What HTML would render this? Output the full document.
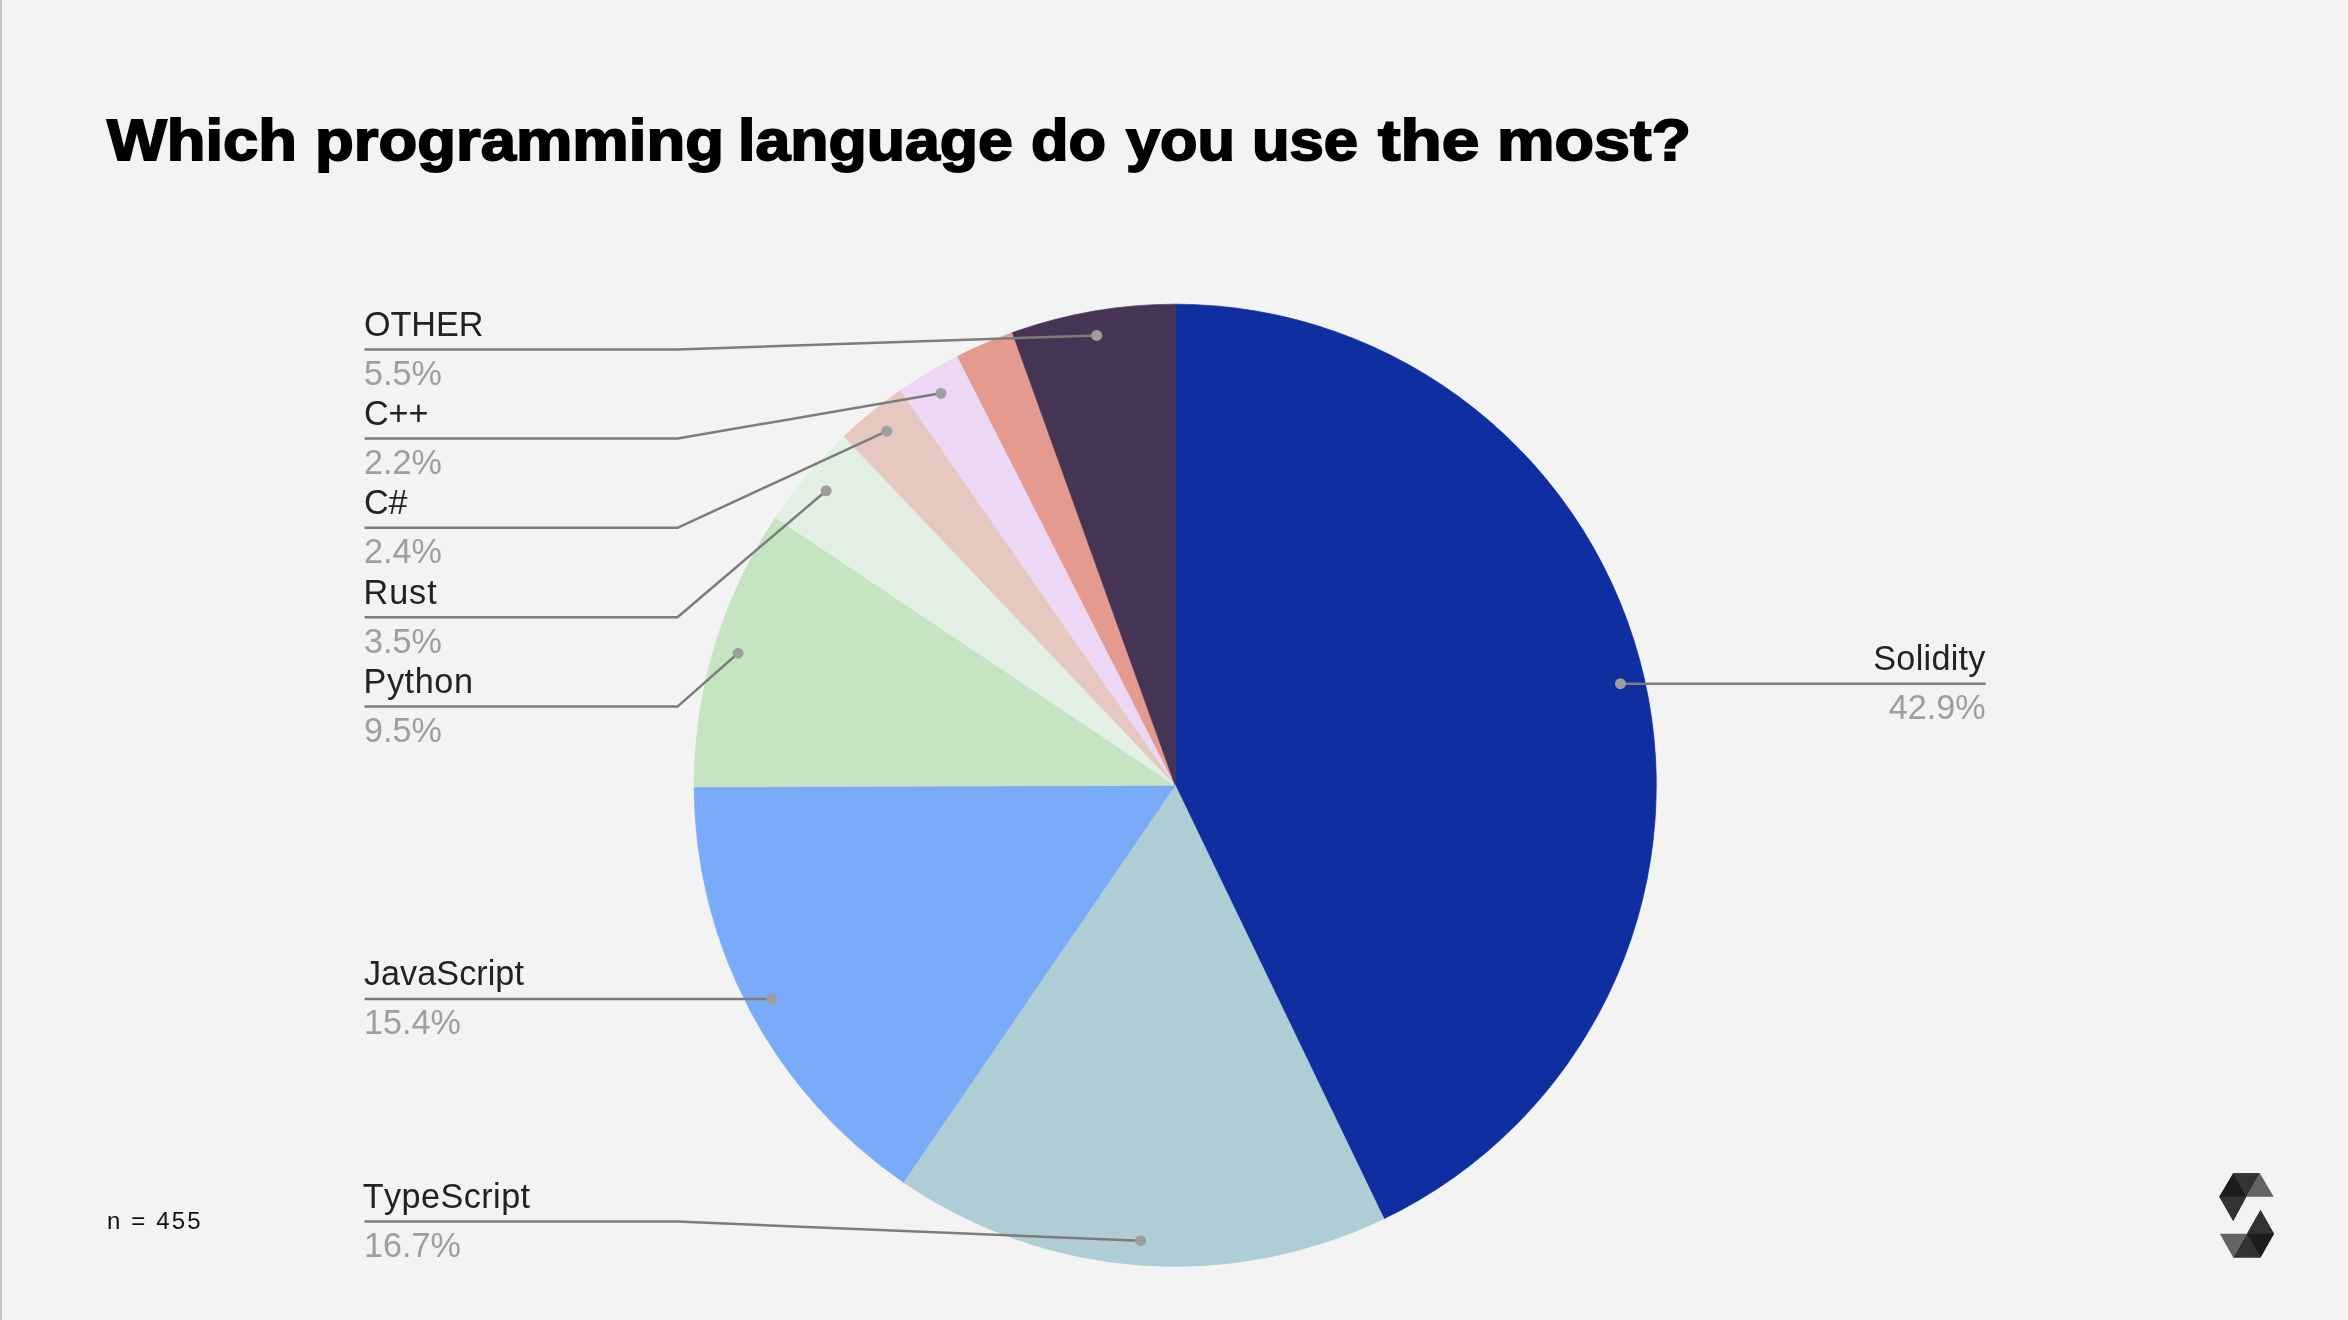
<!DOCTYPE html>
<html><head><meta charset="utf-8"><title>Which programming language do you use the most?</title>
<style>
html,body{margin:0;padding:0;}
body{width:2348px;height:1320px;background:#f3f3f3;overflow:hidden;position:relative;font-family:"Liberation Sans",sans-serif;}
#edge{position:absolute;left:0;top:0;width:2px;height:1320px;background:#c4c6c4;}
#title{position:absolute;left:0;top:100.2px;margin:0;width:2348px;height:80px;font-family:"Liberation Sans",sans-serif;font-weight:bold;font-size:58px;line-height:80px;color:#000;white-space:nowrap;-webkit-text-stroke:1.8px #000;}
#title span{position:absolute;top:0;display:block;transform-origin:0 0;}
#n{position:absolute;left:106.9px;top:1206.1px;font-size:24px;line-height:30px;color:#111;letter-spacing:2.15px;white-space:nowrap;}
svg{position:absolute;left:0;top:0;will-change:transform;}
#title,#n{will-change:transform;}
.ln{fill:none;stroke:#7c7c7c;stroke-width:2.5;stroke-linejoin:miter;}
.lb,.pc{font-kerning:none;}
.lb{font-family:"Liberation Sans",sans-serif;font-size:34.2px;fill:#222222;}
.pc{font-family:"Liberation Sans",sans-serif;font-size:34.2px;fill:#9e9e9e;}
</style></head>
<body>
<div id="edge"></div>
<h1 id="title"><span style="left:107.19px;transform:scaleX(1.0924)">Which </span><span style="left:315.12px;transform:scaleX(1.0940)">programming </span><span style="left:738.46px;transform:scaleX(1.0796)">language </span><span style="left:1030.88px;transform:scaleX(1.0588)">do </span><span style="left:1126.06px;transform:scaleX(1.0574)">you </span><span style="left:1252.22px;transform:scaleX(1.0615)">use </span><span style="left:1377.80px;transform:scaleX(1.1651)">the </span><span style="left:1496.96px;transform:scaleX(1.1149)">most?</span></h1>
<svg width="2348" height="1320" viewBox="0 0 2348 1320">
<g id="pie">
<path d="M1175.2,785.3L1175.20,304.20A481.1,481.1 0 0 1 1383.94,1218.76Z" fill="#0f2ea0" stroke="#0f2ea0" stroke-width="0.7" stroke-linejoin="round"/>
<path d="M1175.2,785.3L1383.94,1218.76A481.1,481.1 0 0 1 903.27,1182.18Z" fill="#afcdd4" stroke="#afcdd4" stroke-width="0.7" stroke-linejoin="round"/>
<path d="M1175.2,785.3L903.27,1182.18A481.1,481.1 0 0 1 694.10,786.96Z" fill="#7aabf9" stroke="#7aabf9" stroke-width="0.7" stroke-linejoin="round"/>
<path d="M1175.2,785.3L694.10,786.96A481.1,481.1 0 0 1 775.53,517.50Z" fill="#c6e4c2" stroke="#c6e4c2" stroke-width="0.7" stroke-linejoin="round"/>
<path d="M1175.2,785.3L775.53,517.50A481.1,481.1 0 0 1 843.93,436.42Z" fill="#e2f0e3" stroke="#e2f0e3" stroke-width="0.7" stroke-linejoin="round"/>
<path d="M1175.2,785.3L843.93,436.42A481.1,481.1 0 0 1 900.54,390.31Z" fill="#e6c8c1" stroke="#e6c8c1" stroke-width="0.7" stroke-linejoin="round"/>
<path d="M1175.2,785.3L900.54,390.31A481.1,481.1 0 0 1 957.53,356.26Z" fill="#ecd7f5" stroke="#ecd7f5" stroke-width="0.7" stroke-linejoin="round"/>
<path d="M1175.2,785.3L957.53,356.26A481.1,481.1 0 0 1 1012.39,332.59Z" fill="#e49a8f" stroke="#e49a8f" stroke-width="0.7" stroke-linejoin="round"/>
<path d="M1175.2,785.3L1012.39,332.59A481.1,481.1 0 0 1 1175.20,304.20Z" fill="#463454" stroke="#463454" stroke-width="0.7" stroke-linejoin="round"/>
</g>
<g id="labels">
<path d="M364.5,349.40L677.5,349.40L1096.76,335.39" class="ln"/>
<circle cx="1096.76" cy="335.39" r="5.5" fill="#9e9e9e"/>
<text transform="translate(363.90,335.70) scale(1,1.05)" class="lb" style="letter-spacing:0px">OTHER</text>
<text transform="translate(363.90,384.70) scale(1,1.05)" class="pc">5.5%</text>
<path d="M364.5,438.50L677.5,438.50L940.96,393.25" class="ln"/>
<circle cx="940.96" cy="393.25" r="5.5" fill="#9e9e9e"/>
<text transform="translate(363.90,424.80) scale(1,1.05)" class="lb" style="letter-spacing:0px">C++</text>
<text transform="translate(363.90,473.80) scale(1,1.05)" class="pc">2.2%</text>
<path d="M364.5,527.80L677.5,527.80L886.77,431.21" class="ln"/>
<circle cx="886.77" cy="431.21" r="5.5" fill="#9e9e9e"/>
<text transform="translate(363.90,514.10) scale(1,1.05)" class="lb" style="letter-spacing:0px">C#</text>
<text transform="translate(363.90,563.10) scale(1,1.05)" class="pc">2.4%</text>
<path d="M364.5,617.20L677.5,617.20L826.14,490.80" class="ln"/>
<circle cx="826.14" cy="490.80" r="5.5" fill="#9e9e9e"/>
<text transform="translate(363.50,603.50) scale(1,1.015)" class="lb" style="letter-spacing:0.95px">Rust</text>
<text transform="translate(363.90,652.50) scale(1,1.05)" class="pc">3.5%</text>
<path d="M364.5,706.60L677.5,706.60L738.02,653.20" class="ln"/>
<circle cx="738.02" cy="653.20" r="5.5" fill="#9e9e9e"/>
<text transform="translate(363.50,692.90) scale(1,1.015)" class="lb" style="letter-spacing:0.6px">Python</text>
<text transform="translate(363.90,741.90) scale(1,1.05)" class="pc">9.5%</text>
<path d="M364.5,998.93L771.55,998.93" class="ln"/>
<circle cx="771.55" cy="998.93" r="5.5" fill="#9e9e9e"/>
<text transform="translate(363.90,985.23) scale(1,1.015)" class="lb" style="letter-spacing:0.05px">JavaScript</text>
<text transform="translate(363.90,1034.23) scale(1,1.05)" class="pc">15.4%</text>
<path d="M364.5,1221.60L677.5,1221.60L1140.55,1240.68" class="ln"/>
<circle cx="1140.55" cy="1240.68" r="5.5" fill="#9e9e9e"/>
<text transform="translate(362.70,1207.90) scale(1,1.015)" class="lb" style="letter-spacing:0.45px">TypeScript</text>
<text transform="translate(363.90,1256.90) scale(1,1.05)" class="pc">16.7%</text>
<path d="M1620.45,683.67L1985.7,683.67" class="ln"/>
<circle cx="1620.45" cy="683.67" r="5.5" fill="#9e9e9e"/>
<text transform="translate(1985.7,669.97) scale(1,1.015)" class="lb" text-anchor="end" style="letter-spacing:0.28px">Solidity</text>
<text transform="translate(1985.7,718.97) scale(1,1.05)" class="pc" text-anchor="end">42.9%</text>
</g>
<g>
<polygon points="2233.2,1173.2 2259.9,1173.2 2246.3,1196.8 2233.2,1220.9 2219.3,1196.8" fill="#333333"/>
<polygon points="2260.5,1209.9 2274.0,1233.7 2260.5,1257.6 2233.2,1257.6 2247.0,1233.7" fill="#333333"/>
<polygon points="2233.2,1173.2 2246.3,1196.8 2219.3,1196.8" fill="#1c1c1c"/>
<polygon points="2233.2,1173.2 2259.9,1173.2 2246.3,1196.8" fill="#333333"/>
<polygon points="2259.9,1173.2 2273.7,1196.8 2246.3,1196.8" fill="#636363"/>
<polygon points="2219.3,1196.8 2246.3,1196.8 2233.2,1220.9" fill="#333333"/>
<polygon points="2260.5,1209.9 2274.0,1233.7 2247.0,1233.7" fill="#333333"/>
<polygon points="2247.0,1233.7 2274.0,1233.7 2260.5,1257.6" fill="#1c1c1c"/>
<polygon points="2247.0,1233.7 2260.5,1257.6 2233.2,1257.6" fill="#333333"/>
<polygon points="2219.9,1233.7 2247.0,1233.7 2233.2,1257.6" fill="#636363"/>
</g>
</svg>
<div id="n">n = 455</div>
</body></html>
